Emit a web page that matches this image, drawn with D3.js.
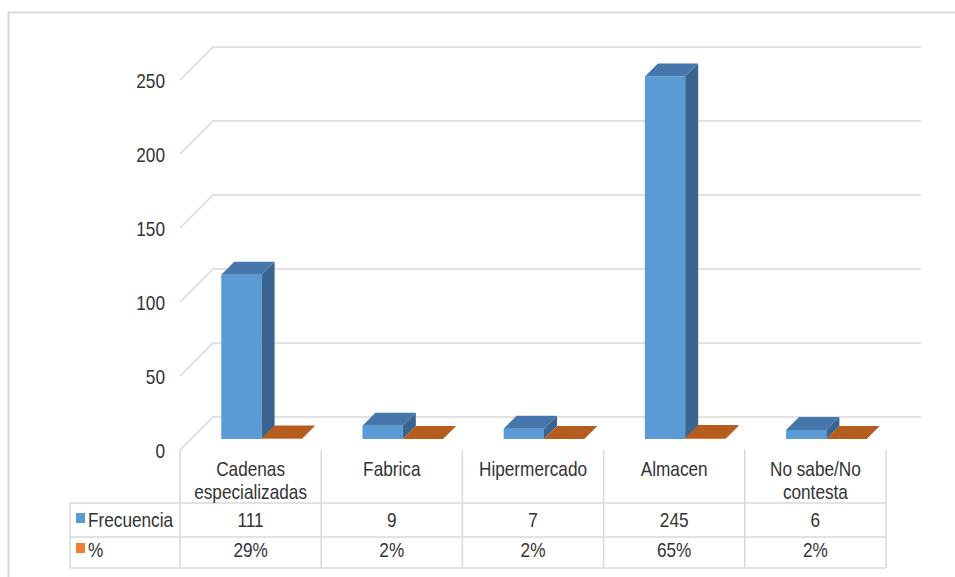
<!DOCTYPE html>
<html>
<head>
<meta charset="utf-8">
<script src="https://cdn.jsdelivr.net/npm/d3@7"></script>
<style>
  body { margin: 0; background: #fff; }
  svg { display: block; }
  text { font-family: "Liberation Sans", Arial, sans-serif; font-size: 21px; fill: #333; }
</style>
</head>
<body>
<svg id="chart" width="955" height="577"></svg>
<script>
// Data
const categories = ["Cadenas\nespecializadas", "Fabrica", "Hipermercado", "Almacen", "No sabe/No\ncontesta"];
const frecuencia = [111, 9, 7, 245, 6];
const porcentaje = [0.29, 0.02, 0.02, 0.65, 0.02];
const seriesNames = ["Frecuencia", "%"];
const yTicks = [0, 50, 100, 150, 200, 250];

const svg = d3.select("#chart");
const W = 955, H = 577;
const narrow = 0.82;   // horizontal condensing of all labels

// Text helper: condensed label anchored at (px, py)
function label(g, px, py, str, anchor, dy) {
  return g.append("text")
    .attr("transform", `translate(${px},${py}) scale(${narrow},1)`)
    .attr("text-anchor", anchor || "start")
    .attr("dy", dy || null)
    .text(str);
}

// Chart frame
svg.append("rect")
  .attr("x", 8.5).attr("y", 12.5).attr("width", W + 10).attr("height", H + 10)
  .attr("fill", "#fff").attr("stroke", "#d9d9d9").attr("stroke-width", 2);

// Scales: front plane of the 3D box
const x = d3.scaleBand().domain(categories).range([180, 886]).paddingInner(0).paddingOuter(0);
const y = d3.scaleLinear().domain([0, 250]).range([450, 80]);
const wallDepth = 33;              // depth of the floor / side wall
const barZ0 = 11, barZ1 = 24;      // depth span occupied by bars
const proj = (px, v, z) => [px + z, y(v) - z];

const grid = "#d9d9d9";

// Gridlines along the side wall and back wall
const gridG = svg.append("g");
yTicks.forEach(t => {
  const p0 = proj(x.range()[0], t, 0);
  const p1 = proj(x.range()[0], t, wallDepth);
  const p2 = proj(x.range()[1] + 2, t, wallDepth);
  gridG.append("polyline")
    .attr("points", [p0, p1, p2].map(p => p.join(",")).join(" "))
    .attr("fill", "none").attr("stroke", grid).attr("stroke-width", 1.5);
});

// Y axis labels
const yLab = svg.append("g");
yTicks.forEach(t => label(yLab, 165, y(t), t, "end", "0.36em"));

// 3D columns
const barW = x.bandwidth() / 3.5;   // two columns per category, gap width 150%
const styles = [
  { front: "#5b9bd5", top: "#4677ac", side: "#3a6490" },
  { front: "#ed7d31", top: "#b65c1f", side: "#a14f18" }
];
const poly = pts => pts.map(p => p.join(",")).join(" ");

function column(g, left, value, st) {
  const right = left + barW;
  // front face
  g.append("polygon").attr("fill", st.front).attr("points", poly([
    proj(left, 0, barZ0), proj(right, 0, barZ0), proj(right, value, barZ0), proj(left, value, barZ0)
  ]));
  // right side
  g.append("polygon").attr("fill", st.side).attr("points", poly([
    proj(right, 0, barZ0), proj(right, 0, barZ1), proj(right, value, barZ1), proj(right, value, barZ0)
  ]));
  // top
  g.append("polygon").attr("fill", st.top).attr("points", poly([
    proj(left, value, barZ0), proj(right, value, barZ0), proj(right, value, barZ1), proj(left, value, barZ1)
  ]));
}

const barsG = svg.append("g");
categories.forEach((c, i) => {
  const center = x(c) + x.bandwidth() / 2;
  column(barsG, center - barW, frecuencia[i], styles[0]);
  column(barsG, center, porcentaje[i], styles[1]);
});

// Data table
const tbl = svg.append("g");
const tLeft = 70, tRight = x.range()[1];
const rowTop = 450, row1 = 503, row2 = 537, row3 = 568;
const line = (x1, y1, x2, y2) => tbl.append("line")
  .attr("x1", x1).attr("y1", y1).attr("x2", x2).attr("y2", y2)
  .attr("stroke", grid).attr("stroke-width", 1.5);

[row1, row2, row3].forEach(r => line(tLeft, r, tRight, r));
line(tLeft, row1, tLeft, row3);
categories.forEach(c => line(x(c), rowTop, x(c), row3));
line(tRight, rowTop, tRight, row3);

// Category labels (header row)
categories.forEach(c => {
  c.split("\n").forEach((ln, k) => {
    label(tbl, x(c) + x.bandwidth() / 2, 476 + k * 23, ln, "middle");
  });
});

// Value rows with legend keys
const pct = d3.format(".0%");
const rows = [
  { y: 527, vals: frecuencia.map(String), color: styles[0].front },
  { y: 557, vals: porcentaje.map(pct), color: styles[1].front }
];
rows.forEach((r, k) => {
  tbl.append("rect").attr("x", 76).attr("y", r.y - 14).attr("width", 9).attr("height", 10).attr("fill", r.color);
  label(tbl, 88, r.y, seriesNames[k], "start");
  categories.forEach((c, i) => {
    label(tbl, x(c) + x.bandwidth() / 2, r.y, r.vals[i], "middle");
  });
});
</script>
</body>
</html>
